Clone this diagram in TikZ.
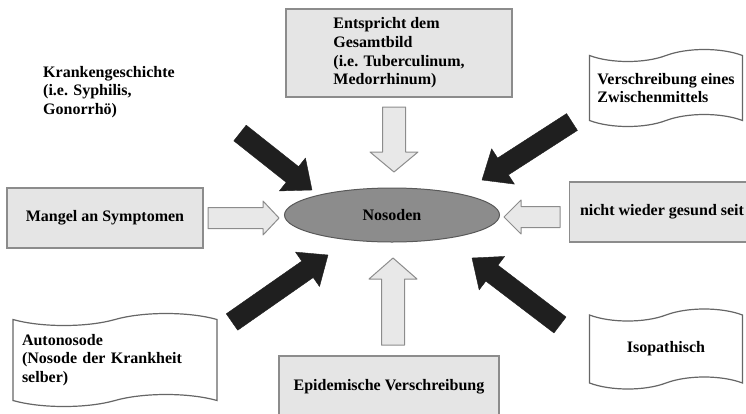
\documentclass[tikz,border=0pt]{standalone}
\usepackage{fontspec}
\setmainfont{Liberation Serif}
\usetikzlibrary{shapes.symbols, shapes.geometric, calc}

\tikzset{
  labeltext/.style={font=\bfseries\fontsize{16}{18.7}\selectfont},
  graybox/.style={labeltext, draw=black!45, fill=black!10, line width=1.5pt, inner sep=0pt},
  wavedoc/.style={labeltext, tape, draw=black!60, fill=white, line width=1.2pt,
    tape bend height=12pt, inner sep=0pt},
  grayarrow/.style={draw=black!45, fill=black!9, line width=1pt, line join=round},
  blackarrow/.style={draw=black!88, fill=black!88, line join=round},
}

% block arrow: style, from, to, shaft half width, head half width, head length
\newcommand\blockarrow[6]{%
  \coordinate (hb) at ($(#3)!#6!(#2)$);
  \draw[#1] ($(#2)!#4!90:(#3)$) -- ($(hb)!#4!-90:(#2)$) -- ($(hb)!#5!-90:(#2)$) -- (#3)
    -- ($(hb)!#5!90:(#2)$) -- ($(hb)!#4!90:(#2)$) -- ($(#2)!#4!-90:(#3)$) -- cycle;
}

\begin{document}
\begin{tikzpicture}[x=1pt, y=-1pt]
  \useasboundingbox (0,0) rectangle (746,413);

  % boxes
  \node[graybox, minimum width=226, minimum height=88, align=left] (gesamt) at (399,53)
    {Entspricht dem\\Gesamtbild\\(i.e. Tuberculinum,\\Medorrhinum)};
  \node[graybox, minimum width=196, minimum height=60] (mangel) at (105,218) {Mangel an Symptomen};
  \node[graybox, minimum width=185, minimum height=60] (gesund) at (662,212) {nicht wieder gesund seit};
  \node[graybox, minimum width=220, minimum height=62] (epidem) at (389,387) {Epidemische Verschreibung};

  % centre
  \node[labeltext, ellipse, draw=black!65, fill=black!45, line width=1pt,
    minimum width=215, minimum height=54, inner sep=0pt] (nosoden) at (392,215) {Nosoden};

  \node[labeltext, align=left, anchor=west, inner sep=0pt] (kranken) at (43,92)
    {Krankengeschichte\\(i.e. Syphilis,\\Gonorrhö)};

  % wave documents
  \node[wavedoc, minimum width=153, minimum height=77, align=left] (zwischen) at (666,88)
    {Verschreibung eines\\Zwischenmittels};
  \node[wavedoc, minimum width=204, minimum height=93, text width=186, align=left] (auto) at (115,360)
    {Autonosode\\(Nosode der Krankheit\\selber)};
  \node[wavedoc, minimum width=153, minimum height=80] (iso) at (666,349) {Isopathisch};

  % arrow ends
  \coordinate (gesamtT) at (394,107);  \coordinate (gesamtH) at (394,172);
  \coordinate (epidemT) at (393,345);  \coordinate (epidemH) at (393,258);
  \coordinate (mangelT) at (208,218);  \coordinate (mangelH) at (279,218);
  \coordinate (gesundT) at (560,217);  \coordinate (gesundH) at (504,217);
  \coordinate (krankenT) at (240,133); \coordinate (krankenH) at (312,190);
  \coordinate (zwischenT) at (572,122); \coordinate (zwischenH) at (482,180);
  \coordinate (autoT) at (232,322);    \coordinate (autoH) at (328,255);
  \coordinate (isoT) at (560,325);     \coordinate (isoH) at (472,258);

  \blockarrow{grayarrow}{gesamtT}{gesamtH}{11.5pt}{24pt}{20pt}
  \blockarrow{grayarrow}{epidemT}{epidemH}{11.5pt}{24pt}{21pt}
  \blockarrow{grayarrow}{mangelT}{mangelH}{10.5pt}{17pt}{16pt}
  \blockarrow{grayarrow}{gesundT}{gesundH}{10.5pt}{17pt}{17pt}

  \foreach \n in {kranken, zwischen, auto, iso}{
    \blockarrow{blackarrow}{\n T}{\n H}{10pt}{21pt}{25pt}
  }
\end{tikzpicture}
\end{document}
